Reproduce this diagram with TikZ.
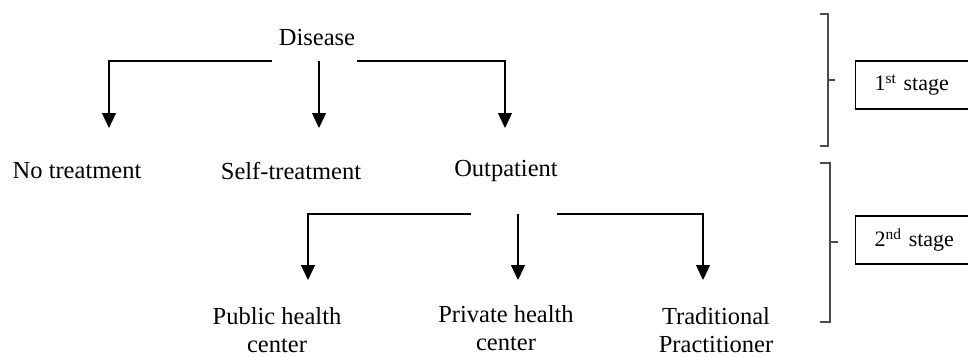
\documentclass[tikz,border=0pt]{standalone}
\usepackage{fontspec}
\setmainfont{Liberation Serif}
\usetikzlibrary{arrows.meta}
\tikzset{
  lbl/.style={font=\fontsize{24.5}{28}\selectfont, inner sep=0pt, align=center},
  arr/.style={line width=1.3pt, -{Triangle[width=14pt,length=15pt]}},
  conn/.style={line width=1.3pt},
  brk/.style={line width=1.3pt, draw=black!70},
  stagebox/.style={draw, line width=1.1pt, anchor=west, minimum height=48pt,
    text width=100pt, inner xsep=19pt, align=left,
    font=\fontsize{22}{26}\selectfont}
}
\begin{document}
\begin{tikzpicture}[x=1pt,y=-1pt]
\useasboundingbox (0,0) rectangle (968,356);
\clip (0,0) rectangle (968,356);
% texts
\node[lbl] (dis) at (317,38) {Disease};
\node[lbl] (nt) at (77,171) {No treatment};
\node[lbl] (st) at (291,171) {Self-treatment};
\node[lbl] (op) at (506,171) {Outpatient};
\node[lbl] (pub) at (277,330) {Public health\\center};
\node[lbl] (pri) at (506,328) {Private health\\center};
\node[lbl] (tra) at (716,330) {Traditional\\Practitioner};
% connector coordinates
\coordinate (d1) at (272,61);
\coordinate (d2) at (319,61);
\coordinate (d3) at (357,61);
\coordinate (t1) at (109,128);
\coordinate (t2) at (319,128);
\coordinate (t3) at (505,128);
\coordinate (o1) at (471,214);
\coordinate (o2) at (518,214);
\coordinate (o3) at (557,214);
\coordinate (s1) at (308,280);
\coordinate (s2) at (518,280);
\coordinate (s3) at (703,280);
% first level
\draw[arr] (d1) -| (t1);
\draw[arr] (d2) -- (t2);
\draw[arr] (d3) -| (t3);
% second level
\draw[arr] (o1) -| (s1);
\draw[arr] (o2) -- (s2);
\draw[arr] (o3) -| (s3);
% brackets
\draw[brk] (820,14) -- (828,14) -- (828,146) -- (820,146);
\draw[brk] (828,80) -- (835,80);
\draw[brk] (820,163) -- (830,163) -- (830,322) -- (820,322);
\draw[brk] (830,242) -- (838,242);
% stage boxes
\node[stagebox] (b1) at (855,85) {1\textsuperscript{st} stage};
\node[stagebox] (b2) at (855,240) {2\textsuperscript{nd} stage};
\end{tikzpicture}
\end{document}
